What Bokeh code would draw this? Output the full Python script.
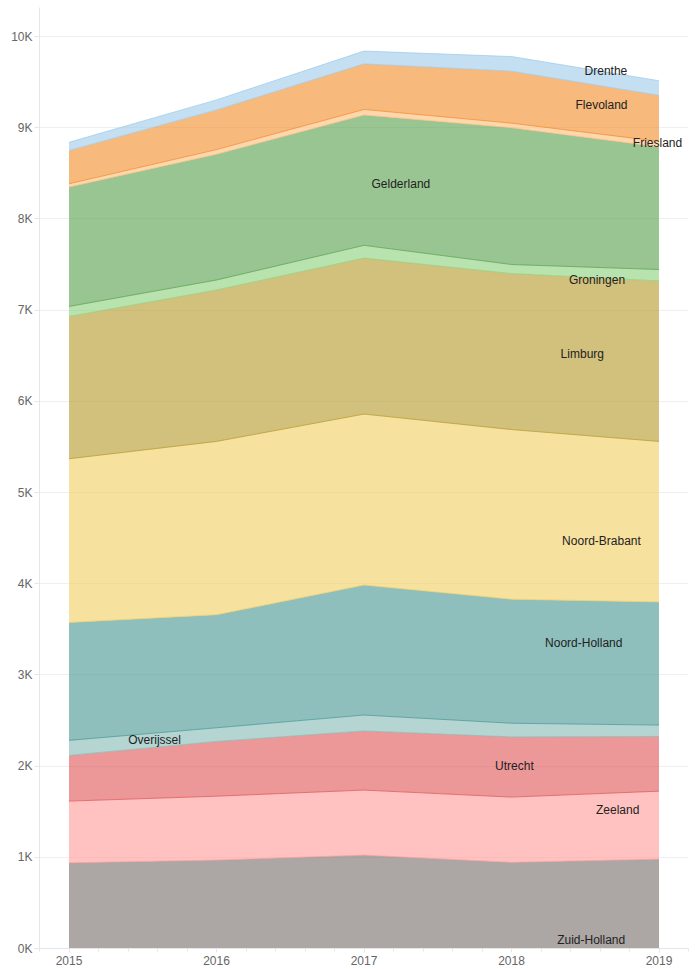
from bokeh.plotting import figure
from bokeh.models import Range1d, FixedTicker, ColumnDataSource
from bokeh.transform import stack
from bokeh.core.properties import value
from bokeh.embed import file_html
from bokeh.resources import INLINE

years = [2015, 2016, 2017, 2018, 2019]

# bottom-to-top stacking order
provinces = ["Zuid-Holland", "Zeeland", "Utrecht", "Overijssel", "Noord-Holland",
             "Noord-Brabant", "Limburg", "Groningen", "Gelderland", "Friesland",
             "Flevoland", "Drenthe"]

zuid_holland = [940, 970, 1024, 945, 980]
zeeland = [676, 700, 713, 715, 745]
utrecht = [501, 600, 648, 660, 600]
overijssel = [165, 150, 175, 150, 125]
noord_holland = [1293, 1240, 1425, 1360, 1350]
noord_brabant = [1795, 1900, 1875, 1860, 1760]
limburg = [1560, 1660, 1710, 1710, 1760]
groningen = [110, 110, 140, 100, 125]
gelderland = [1310, 1380, 1430, 1500, 1345]
friesland = [35, 50, 60, 50, 60]
flevoland = [365, 435, 500, 570, 505]
drenthe = [90, 110, 140, 160, 160]

series = [zuid_holland, zeeland, utrecht, overijssel, noord_holland, noord_brabant,
          limburg, groningen, gelderland, friesland, flevoland, drenthe]

colors = ["#79706E", "#FF9D9A", "#E15759", "#86BCB6", "#499894", "#F1CE63",
          "#B6992D", "#8CD17D", "#59A14F", "#FFBE7D", "#F28E2B", "#A0CBE8"]

y_ticks = [0, 1000, 2000, 3000, 4000, 5000, 6000, 7000, 8000, 9000, 10000]
y_tick_labels = ["0K", "1K", "2K", "3K", "4K", "5K", "6K", "7K", "8K", "9K", "10K"]

# label anchor positions (year, value) for the in-chart series names
label_x = [2018.54, 2018.72, 2018.02, 2015.58, 2018.49, 2018.61,
           2018.48, 2018.58, 2017.25, 2018.99, 2018.61, 2018.64]
label_y = [91, 1520, 2000, 2285, 3350, 4468,
           6520, 7331, 8385, 8835, 9251, 9625]

data = {"year": years}
for name, vals in zip(provinces, series):
    data[name] = vals
source = ColumnDataSource(data)

p = figure(width=697, height=969, output_backend="svg", toolbar_location=None,
           x_range=Range1d(2014.8, 2019.2), y_range=Range1d(0, 10318),
           min_border_left=39, min_border_right=9, min_border_top=7, min_border_bottom=21)

p.varea_stack(stackers=provinces, x="year", color=colors, fill_alpha=0.62, source=source)

for i in range(1, len(provinces) + 1):
    p.line(x="year", y=stack(*provinces[:i]), line_color=colors[min(i, len(provinces) - 1)],
           line_alpha=0.75, line_width=1, source=source)

p.text(x=label_x, y=label_y, text=provinces, text_align="center", text_baseline="middle",
       text_font=value("Liberation Sans"), text_font_size="12px", text_color="#222222")

p.outline_line_color = None
p.background_fill_color = "white"
p.border_fill_color = "white"

minor = [2014.8 + 0.2 * k for k in range(23)]
p.xaxis.ticker = FixedTicker(ticks=years, minor_ticks=minor)
p.yaxis.ticker = FixedTicker(ticks=y_ticks)
p.yaxis.major_label_overrides = {t: l for t, l in zip(y_ticks, y_tick_labels)}

for ax in (p.xaxis[0], p.yaxis[0]):
    ax.axis_line_color = "#e6e6e6"
    ax.major_tick_line_color = "#e6e6e6"
    ax.minor_tick_line_color = "#e6e6e6"
    ax.major_label_text_font = "Liberation Sans"
    ax.major_label_text_font_size = "12px"
    ax.major_label_text_color = "#666666"
    ax.major_tick_in = 0

p.yaxis.major_tick_out = 5
p.yaxis.major_label_standoff = 2
p.yaxis.minor_tick_line_color = None
p.xaxis.major_tick_out = 4
p.xaxis.minor_tick_out = 3
p.xaxis.minor_tick_in = 0
p.xaxis.major_label_standoff = 3

p.xgrid.visible = False
p.ygrid.grid_line_color = "#efefef"

open("out.html", "w").write(file_html(p, INLINE))
